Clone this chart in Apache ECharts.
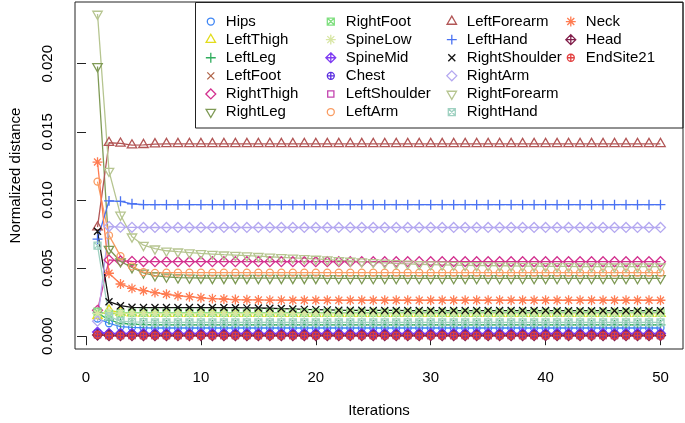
<!DOCTYPE html>
<html><head><meta charset="utf-8">
<script src="https://cdn.jsdelivr.net/npm/echarts@6/dist/echarts.min.js"></script>
<style>html,body{margin:0;padding:0;background:#fff}#c{width:685px;height:423px}</style>
</head><body><div id="c"></div>
<script>
// ---------------- data ----------------
const iterations = [1,2,3,4,5,6,7,8,9,10,11,12,13,14,15,16,17,18,19,20,21,22,23,24,25,26,27,28,29,30,31,32,33,34,35,36,37,38,39,40,41,42,43,44,45,46,47,48,49,50];
const xTickValues = [0,10,20,30,40,50];
const yTickValues = [0,0.005,0.010,0.015,0.020];
const seriesNames = ["Hips","LeftThigh","LeftLeg","LeftFoot","RightThigh","RightLeg","RightFoot","SpineLow","SpineMid","Chest","LeftShoulder","LeftArm","LeftForearm","LeftHand","RightShoulder","RightArm","RightForearm","RightHand","Neck","Head","EndSite21"];

const hips = [0.00130,0.00095,0.00070,0.00065,0.00062,0.00060,0.00060,0.00060,0.00060,0.00060,
0.00060,0.00060,0.00060,0.00060,0.00060,0.00060,0.00060,0.00060,0.00060,0.00060,
0.00060,0.00060,0.00060,0.00060,0.00060,0.00060,0.00060,0.00060,0.00060,0.00060,
0.00060,0.00060,0.00060,0.00060,0.00060,0.00060,0.00060,0.00060,0.00060,0.00060,
0.00060,0.00060,0.00060,0.00060,0.00060,0.00060,0.00060,0.00060,0.00060,0.00060];
const leftThigh = [0.00150,0.00190,0.00175,0.00170,0.00168,0.00166,0.00165,0.00165,0.00165,0.00165,
0.00165,0.00165,0.00165,0.00165,0.00165,0.00165,0.00165,0.00165,0.00165,0.00165,
0.00165,0.00165,0.00165,0.00165,0.00165,0.00165,0.00165,0.00165,0.00165,0.00165,
0.00165,0.00165,0.00165,0.00165,0.00165,0.00165,0.00165,0.00165,0.00165,0.00165,
0.00165,0.00165,0.00165,0.00165,0.00165,0.00165,0.00165,0.00165,0.00165,0.00165];
const leftLeg = [0.00170,0.00120,0.00095,0.00088,0.00085,0.00084,0.00083,0.00083,0.00083,0.00083,
0.00083,0.00083,0.00083,0.00083,0.00083,0.00083,0.00083,0.00083,0.00083,0.00083,
0.00083,0.00083,0.00083,0.00083,0.00083,0.00083,0.00083,0.00083,0.00083,0.00083,
0.00083,0.00083,0.00083,0.00083,0.00083,0.00083,0.00083,0.00083,0.00083,0.00083,
0.00083,0.00083,0.00083,0.00083,0.00083,0.00083,0.00083,0.00083,0.00083,0.00083];
const leftFoot = [0.00012,0.00005,0.00005,0.00005,0.00005,0.00005,0.00005,0.00005,0.00005,0.00005,
0.00005,0.00005,0.00005,0.00005,0.00005,0.00005,0.00005,0.00005,0.00005,0.00005,
0.00005,0.00005,0.00005,0.00005,0.00005,0.00005,0.00005,0.00005,0.00005,0.00005,
0.00005,0.00005,0.00005,0.00005,0.00005,0.00005,0.00005,0.00005,0.00005,0.00005,
0.00005,0.00005,0.00005,0.00005,0.00005,0.00005,0.00005,0.00005,0.00005,0.00005];
const rightThigh = [0.00190,0.00560,0.00552,0.00549,0.00548,0.00547,0.00547,0.00547,0.00547,0.00547,
0.00547,0.00547,0.00547,0.00547,0.00547,0.00547,0.00547,0.00547,0.00547,0.00547,
0.00547,0.00547,0.00547,0.00547,0.00547,0.00547,0.00547,0.00547,0.00547,0.00547,
0.00547,0.00547,0.00547,0.00547,0.00547,0.00547,0.00547,0.00547,0.00547,0.00547,
0.00547,0.00547,0.00547,0.00547,0.00547,0.00547,0.00547,0.00547,0.00547,0.00547];
const rightLeg = [0.01980,0.00640,0.00548,0.00505,0.00465,0.00445,0.00436,0.00430,0.00428,0.00427,
0.00426,0.00426,0.00426,0.00426,0.00426,0.00426,0.00426,0.00426,0.00426,0.00426,
0.00425,0.00425,0.00425,0.00425,0.00425,0.00425,0.00425,0.00425,0.00425,0.00425,
0.00425,0.00425,0.00425,0.00425,0.00425,0.00425,0.00425,0.00425,0.00425,0.00425,
0.00425,0.00425,0.00425,0.00425,0.00425,0.00425,0.00425,0.00425,0.00425,0.00425];
const rightFoot = [0.00180,0.00163,0.00170,0.00172,0.00172,0.00172,0.00172,0.00172,0.00172,0.00172,
0.00172,0.00172,0.00172,0.00172,0.00172,0.00172,0.00172,0.00172,0.00172,0.00172,
0.00172,0.00172,0.00172,0.00172,0.00172,0.00172,0.00172,0.00172,0.00172,0.00172,
0.00172,0.00172,0.00172,0.00172,0.00172,0.00172,0.00172,0.00172,0.00172,0.00172,
0.00172,0.00172,0.00172,0.00172,0.00172,0.00172,0.00172,0.00172,0.00172,0.00172];
const spineLow = [0.00165,0.00175,0.00170,0.00168,0.00168,0.00168,0.00168,0.00168,0.00168,0.00168,
0.00168,0.00168,0.00168,0.00168,0.00168,0.00168,0.00168,0.00168,0.00168,0.00168,
0.00168,0.00168,0.00168,0.00168,0.00168,0.00168,0.00168,0.00168,0.00168,0.00168,
0.00168,0.00168,0.00168,0.00168,0.00168,0.00168,0.00168,0.00168,0.00168,0.00168,
0.00168,0.00168,0.00168,0.00168,0.00168,0.00168,0.00168,0.00168,0.00168,0.00168];
const spineMid = [0.00030,0.00020,0.00020,0.00020,0.00020,0.00020,0.00020,0.00020,0.00020,0.00020,
0.00020,0.00020,0.00020,0.00020,0.00020,0.00020,0.00020,0.00020,0.00020,0.00020,
0.00020,0.00020,0.00020,0.00020,0.00020,0.00020,0.00020,0.00020,0.00020,0.00020,
0.00020,0.00020,0.00020,0.00020,0.00020,0.00020,0.00020,0.00020,0.00020,0.00020,
0.00020,0.00020,0.00020,0.00020,0.00020,0.00020,0.00020,0.00020,0.00020,0.00020];
const chest = [0.00025,0.00018,0.00018,0.00018,0.00018,0.00018,0.00018,0.00018,0.00018,0.00018,
0.00018,0.00018,0.00018,0.00018,0.00018,0.00018,0.00018,0.00018,0.00018,0.00018,
0.00018,0.00018,0.00018,0.00018,0.00018,0.00018,0.00018,0.00018,0.00018,0.00018,
0.00018,0.00018,0.00018,0.00018,0.00018,0.00018,0.00018,0.00018,0.00018,0.00018,
0.00018,0.00018,0.00018,0.00018,0.00018,0.00018,0.00018,0.00018,0.00018,0.00018];
const leftShoulder = [0.00010,0.00005,0.00005,0.00005,0.00005,0.00005,0.00005,0.00005,0.00005,0.00005,
0.00005,0.00005,0.00005,0.00005,0.00005,0.00005,0.00005,0.00005,0.00005,0.00005,
0.00005,0.00005,0.00005,0.00005,0.00005,0.00005,0.00005,0.00005,0.00005,0.00005,
0.00005,0.00005,0.00005,0.00005,0.00005,0.00005,0.00005,0.00005,0.00005,0.00005,
0.00005,0.00005,0.00005,0.00005,0.00005,0.00005,0.00005,0.00005,0.00005,0.00005];
const leftArm = [0.01135,0.00740,0.00588,0.00512,0.00470,0.00465,0.00466,0.00467,0.00467,0.00467,
0.00467,0.00467,0.00467,0.00467,0.00467,0.00467,0.00467,0.00467,0.00467,0.00467,
0.00467,0.00467,0.00467,0.00467,0.00467,0.00467,0.00467,0.00467,0.00467,0.00467,
0.00467,0.00467,0.00467,0.00467,0.00467,0.00467,0.00467,0.00467,0.00467,0.00467,
0.00467,0.00467,0.00467,0.00467,0.00467,0.00467,0.00467,0.00467,0.00467,0.00467];
const leftForearm = [0.00800,0.01420,0.01415,0.01402,0.01405,0.01410,0.01412,0.01412,0.01412,0.01412,
0.01412,0.01412,0.01412,0.01412,0.01412,0.01412,0.01412,0.01412,0.01412,0.01412,
0.01412,0.01412,0.01412,0.01412,0.01412,0.01412,0.01412,0.01412,0.01412,0.01412,
0.01412,0.01412,0.01412,0.01412,0.01412,0.01412,0.01412,0.01412,0.01412,0.01412,
0.01412,0.01412,0.01412,0.01412,0.01412,0.01412,0.01412,0.01412,0.01412,0.01412];
const leftHand = [0.00712,0.00993,0.00990,0.00972,0.00966,0.00965,0.00965,0.00965,0.00965,0.00965,
0.00965,0.00965,0.00965,0.00965,0.00965,0.00965,0.00965,0.00965,0.00965,0.00965,
0.00965,0.00965,0.00965,0.00965,0.00965,0.00965,0.00965,0.00965,0.00965,0.00965,
0.00965,0.00965,0.00965,0.00965,0.00965,0.00965,0.00965,0.00965,0.00965,0.00965,
0.00965,0.00965,0.00965,0.00965,0.00965,0.00965,0.00965,0.00965,0.00965,0.00965];
const rightShoulder = [0.00770,0.00253,0.00224,0.00212,0.00210,0.00210,0.00210,0.00210,0.00210,0.00210,
0.00210,0.00210,0.00209,0.00208,0.00207,0.00205,0.00203,0.00200,0.00197,0.00195,
0.00193,0.00191,0.00190,0.00190,0.00189,0.00189,0.00189,0.00188,0.00188,0.00188,
0.00188,0.00188,0.00188,0.00188,0.00188,0.00188,0.00188,0.00188,0.00188,0.00188,
0.00187,0.00187,0.00187,0.00187,0.00187,0.00187,0.00187,0.00187,0.00187,0.00187];
const rightArm = [0.00110,0.00805,0.00800,0.00799,0.00798,0.00798,0.00798,0.00798,0.00798,0.00798,
0.00798,0.00798,0.00798,0.00798,0.00798,0.00798,0.00798,0.00798,0.00798,0.00798,
0.00798,0.00798,0.00798,0.00798,0.00798,0.00798,0.00798,0.00798,0.00798,0.00798,
0.00798,0.00798,0.00798,0.00798,0.00798,0.00798,0.00798,0.00798,0.00798,0.00798,
0.00798,0.00798,0.00798,0.00798,0.00798,0.00798,0.00798,0.00798,0.00798,0.00798];
const rightForearm = [0.02365,0.01212,0.00890,0.00730,0.00668,0.00642,0.00627,0.00620,0.00614,0.00608,
0.00603,0.00598,0.00595,0.00591,0.00587,0.00583,0.00579,0.00575,0.00571,0.00567,
0.00562,0.00557,0.00552,0.00547,0.00542,0.00538,0.00534,0.00531,0.00528,0.00526,
0.00524,0.00522,0.00520,0.00519,0.00518,0.00517,0.00516,0.00515,0.00514,0.00513,
0.00512,0.00512,0.00511,0.00511,0.00510,0.00510,0.00510,0.00510,0.00510,0.00510];
const rightHand = [0.00665,0.00145,0.00110,0.00105,0.00103,0.00102,0.00102,0.00102,0.00102,0.00102,
0.00102,0.00102,0.00102,0.00102,0.00102,0.00102,0.00102,0.00102,0.00102,0.00102,
0.00102,0.00102,0.00102,0.00102,0.00102,0.00102,0.00102,0.00102,0.00102,0.00102,
0.00102,0.00102,0.00102,0.00102,0.00102,0.00102,0.00102,0.00102,0.00102,0.00102,
0.00102,0.00102,0.00102,0.00102,0.00102,0.00102,0.00102,0.00102,0.00102,0.00102];
const neck = [0.01278,0.00462,0.00383,0.00351,0.00334,0.00320,0.00308,0.00297,0.00290,0.00282,
0.00276,0.00273,0.00269,0.00267,0.00266,0.00265,0.00265,0.00264,0.00264,0.00264,
0.00264,0.00264,0.00264,0.00264,0.00264,0.00264,0.00264,0.00264,0.00264,0.00264,
0.00264,0.00264,0.00264,0.00264,0.00264,0.00264,0.00264,0.00264,0.00264,0.00264,
0.00264,0.00264,0.00264,0.00264,0.00264,0.00264,0.00264,0.00264,0.00264,0.00264];
const head = [0.00008,0.00005,0.00005,0.00005,0.00005,0.00005,0.00005,0.00005,0.00005,0.00005,
0.00005,0.00005,0.00005,0.00005,0.00005,0.00005,0.00005,0.00005,0.00005,0.00005,
0.00005,0.00005,0.00005,0.00005,0.00005,0.00005,0.00005,0.00005,0.00005,0.00005,
0.00005,0.00005,0.00005,0.00005,0.00005,0.00005,0.00005,0.00005,0.00005,0.00005,
0.00005,0.00005,0.00005,0.00005,0.00005,0.00005,0.00005,0.00005,0.00005,0.00005];
const endSite21 = [0.00010,0.00004,0.00004,0.00004,0.00004,0.00004,0.00004,0.00004,0.00004,0.00004,
0.00004,0.00004,0.00004,0.00004,0.00004,0.00004,0.00004,0.00004,0.00004,0.00004,
0.00004,0.00004,0.00004,0.00004,0.00004,0.00004,0.00004,0.00004,0.00004,0.00004,
0.00004,0.00004,0.00004,0.00004,0.00004,0.00004,0.00004,0.00004,0.00004,0.00004,
0.00004,0.00004,0.00004,0.00004,0.00004,0.00004,0.00004,0.00004,0.00004,0.00004];

const seriesValues = [hips,leftThigh,leftLeg,leftFoot,rightThigh,rightLeg,rightFoot,spineLow,spineMid,chest,leftShoulder,leftArm,leftForearm,leftHand,rightShoulder,rightArm,rightForearm,rightHand,neck,head,endSite21];

// ---------------- styles ----------------
const seriesColors = ["#3f86f4","#e2dc1c","#30ad5e","#b0654a","#d3318f","#7f9a55","#80df80","#d8e6a4","#7f3cf2","#5a2ee0","#c444b0","#f99c62","#b25656","#4a72f2","#111111","#b4a8f0","#b6c590","#9fd1c1","#ff7c52","#821f4b","#e24040"];
const F = "M0,0M12,12";
const SYM = {
  circle: "path://" + F + "M9.5,6A3.5,3.5 0 1,1 2.5,6A3.5,3.5 0 1,1 9.5,6Z",
  triUp: "path://" + F + "M6,0.56L10.71,8.72L1.29,8.72Z",
  plus: "path://" + F + "M1.05,6L10.95,6M6,1.05L6,10.95",
  cross: "path://" + F + "M2.5,2.5L9.5,9.5M9.5,2.5L2.5,9.5",
  diamond: "path://" + F + "M6,1.05L10.95,6L6,10.95L1.05,6Z",
  triDown: "path://" + F + "M6,11.44L10.71,3.28L1.29,3.28Z",
  boxX: "path://" + F + "M2.5,2.5L9.5,2.5L9.5,9.5L2.5,9.5ZM2.5,2.5L9.5,9.5M9.5,2.5L2.5,9.5",
  star: "path://" + F + "M2.5,2.5L9.5,9.5M9.5,2.5L2.5,9.5M1.05,6L10.95,6M6,1.05L6,10.95",
  diamondPlus: "path://" + F + "M6,1.05L10.95,6L6,10.95L1.05,6ZM6,1.05L6,10.95M1.05,6L10.95,6",
  circlePlus: "path://" + F + "M9.5,6A3.5,3.5 0 1,1 2.5,6A3.5,3.5 0 1,1 9.5,6ZM2.5,6L9.5,6M6,2.5L6,9.5",
  square: "path://" + F + "M2.9,2.9L9.1,2.9L9.1,9.1L2.9,9.1Z"
};
const seriesSymbols = ["circle","triUp","plus","cross","diamond","triDown","boxX","star","diamondPlus","circlePlus","square",
  "circle","triUp","plus","cross","diamond","triDown","boxX","star","diamondPlus","circlePlus"].map(k => SYM[k]);

const FONT = "'Liberation Sans', Arial, Helvetica, sans-serif";
const chart = echarts.init(document.getElementById('c'), null, {renderer: 'canvas'});

const series = seriesNames.map((name, i) => ({
  name: name,
  type: 'line',
  data: iterations.map((x, j) => [x, seriesValues[i][j]]),
  symbol: seriesSymbols[i],
  symbolSize: 12,
  showSymbol: true,
  lineStyle: {color: seriesColors[i], width: 1.3},
  itemStyle: {color: 'none', borderColor: seriesColors[i], borderWidth: 1.3},
  emphasis: {disabled: true},
  z: 2
}));

const colLefts = [202.3, 322.3, 443.3, 562.3];
const legends = [0,1,2,3].map(k => ({
  orient: 'vertical',
  left: colLefts[k], top: 12.5,
  padding: 0, itemGap: 0,
  itemWidth: 12, itemHeight: 12,
  selectedMode: false,
  textStyle: {fontFamily: FONT, fontSize: 15, color: '#000', lineHeight: 18.1, padding: [0,0,0,4]},
  data: seriesNames.slice(k*6, k*6+6).map((n) => {
    const i = seriesNames.indexOf(n);
    return {name: n, icon: seriesSymbols[i], itemStyle: {color: 'none', borderColor: seriesColors[i], borderWidth: 1.3}};
  })
}));

chart.setOption({
  animation: false,
  backgroundColor: '#fff',
  grid: {left: 71, right: 2, top: 2, bottom: 73, show: true, borderColor: '#222', borderWidth: 1, backgroundColor: 'transparent'},
  xAxis: {
    type: 'value', min: -0.96, max: 51.96,
    name: 'Iterations', nameLocation: 'middle', nameGap: 54,
    nameTextStyle: {fontFamily: FONT, fontSize: 15, color: '#000'},
    axisLine: {show: false},
    axisTick: {show: true, length: 9, lineStyle: {color: '#222', width: 1}, customValues: xTickValues},
    axisLabel: {fontFamily: FONT, fontSize: 15, color: '#000', margin: 21, customValues: xTickValues},
    splitLine: {show: false}
  },
  yAxis: {
    type: 'value', min: -0.00094, max: 0.02453,
    name: 'Normalized distance', nameLocation: 'middle', nameGap: 52,
    nameTextStyle: {fontFamily: FONT, fontSize: 15, color: '#000'},
    axisLine: {show: false},
    axisTick: {show: true, length: 9, lineStyle: {color: '#222', width: 1}, customValues: yTickValues},
    axisLabel: {fontFamily: FONT, fontSize: 15, color: '#000', rotate: 90, margin: 20, customValues: yTickValues,
      formatter: v => v.toFixed(3)},
    splitLine: {show: false}
  },
  legend: legends,
  graphic: [{type: 'rect', z: 100, silent: true, shape: {x: 195.5, y: 2.5, width: 487.5, height: 125.5}, style: {fill: 'none', stroke: '#222', lineWidth: 1}}],
  series: series
});
</script></body></html>
